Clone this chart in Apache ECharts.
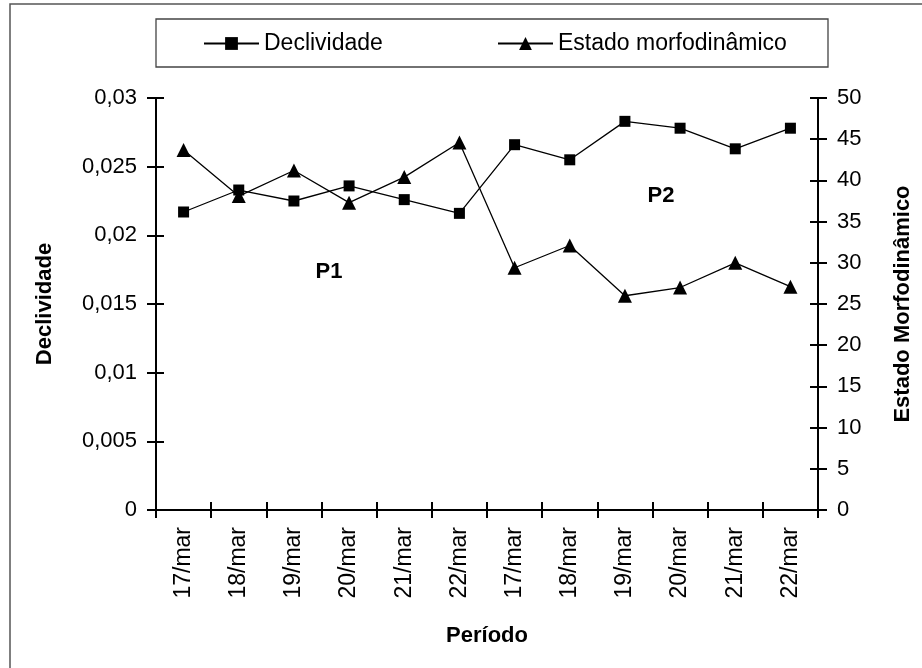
<!DOCTYPE html>
<html>
<head>
<meta charset="utf-8">
<script src="https://cdn.jsdelivr.net/npm/echarts@6/dist/echarts.min.js"></script>
<style>
  html, body { margin: 0; padding: 0; background: #fff; }
  #chart { width: 922px; height: 668px; }
</style>
</head>
<body>
<div id="chart"></div>
<script>
// dados
const periodos = ['17/mar', '18/mar', '19/mar', '20/mar', '21/mar', '22/mar',
                  '17/mar', '18/mar', '19/mar', '20/mar', '21/mar', '22/mar'];
const declividade = [0.0217, 0.0233, 0.0225, 0.0236, 0.0226, 0.0216,
                     0.0266, 0.0255, 0.0283, 0.0278, 0.0263, 0.0278];
const estadoMorfo = [43.7, 38.1, 41.2, 37.3, 40.4, 44.6,
                     29.4, 32.1, 26.0, 27.0, 30.0, 27.1];

const FONT = '"Liberation Sans", Arial, sans-serif';

const myChart = echarts.init(document.getElementById('chart'));

const fmtDecl = v => String(+(+v).toFixed(3)).replace('.', ',');

// eixo auxiliar só para os traços internos (ticks cruzando o eixo)
function innerTicks(base) {
  return Object.assign({
    axisLine: { show: false },
    axisLabel: { show: false },
    splitLine: { show: false },
    axisTick: { show: true, inside: true, length: 8, lineStyle: { color: '#000', width: 2 } }
  }, base);
}

const option = {
  backgroundColor: '#fff',
  animation: false,
  textStyle: { fontFamily: FONT, color: '#000' },
  grid: { left: 156, right: 96, top: 98, bottom: 158, containLabel: false },
  legend: [
    {
      data: ['Declividade'],
      left: 198, top: 27,
      itemWidth: 55, itemHeight: 16, itemGap: 12,
      textStyle: { fontFamily: FONT, fontSize: 23, color: '#000' }
    },
    {
      data: ['Estado morfodinâmico'],
      left: 492, top: 27,
      itemWidth: 55, itemHeight: 16, itemGap: 12,
      textStyle: { fontFamily: FONT, fontSize: 23, color: '#000' }
    }
  ],
  graphic: [
    { type: 'rect', shape: { x: 10, y: 4, width: 1000, height: 1000 },
      style: { fill: 'none', stroke: '#555', lineWidth: 1.5 }, z: 0 },
    { type: 'rect', shape: { x: 156, y: 19, width: 672, height: 48 },
      style: { fill: 'none', stroke: '#444', lineWidth: 1.3 }, z: 0 },
    { type: 'text', x: 329, y: 272,
      style: { text: 'P1', font: 'bold 22px ' + FONT, fill: '#000', align: 'center', verticalAlign: 'middle' } },
    { type: 'text', x: 661, y: 196,
      style: { text: 'P2', font: 'bold 22px ' + FONT, fill: '#000', align: 'center', verticalAlign: 'middle' } }
  ],
  xAxis: [
    {
      type: 'category',
      data: periodos,
      boundaryGap: true,
      name: 'Período',
      nameLocation: 'middle',
      nameGap: 126,
      nameTextStyle: { fontFamily: FONT, fontSize: 22, fontWeight: 'bold', color: '#000', verticalAlign: 'middle' },
      axisLine: { lineStyle: { color: '#000', width: 2 } },
      axisTick: { show: true, interval: 0, length: 8, lineStyle: { color: '#000', width: 2 } },
      axisLabel: { interval: 0, rotate: 90, margin: 17, fontFamily: FONT, fontSize: 23, color: '#000' },
      splitLine: { show: false }
    },
    innerTicks({ type: 'category', data: periodos, boundaryGap: true, position: 'bottom',
      axisTick: { show: true, inside: true, interval: 0, length: 8, lineStyle: { color: '#000', width: 2 } } })
  ],
  yAxis: [
    {
      type: 'value',
      min: 0, max: 0.03, interval: 0.005,
      position: 'left',
      name: 'Declividade',
      nameLocation: 'middle',
      nameGap: 111,
      nameTextStyle: { fontFamily: FONT, fontSize: 22, fontWeight: 'bold', color: '#000', verticalAlign: 'middle' },
      axisLine: { show: true, lineStyle: { color: '#000', width: 2 } },
      axisTick: { show: true, length: 9, lineStyle: { color: '#000', width: 2 } },
      axisLabel: { margin: 19, fontFamily: FONT, fontSize: 22, color: '#000', formatter: fmtDecl },
      splitLine: { show: false }
    },
    {
      type: 'value',
      min: 0, max: 50, interval: 5,
      position: 'right',
      name: 'Estado Morfodinâmico',
      nameLocation: 'middle',
      nameGap: 85,
      nameRotate: 90,
      nameTextStyle: { fontFamily: FONT, fontSize: 22, fontWeight: 'bold', color: '#000', verticalAlign: 'middle' },
      axisLine: { show: true, lineStyle: { color: '#000', width: 2 } },
      axisTick: { show: true, length: 9, lineStyle: { color: '#000', width: 2 } },
      axisLabel: { margin: 19, fontFamily: FONT, fontSize: 22, color: '#000' },
      splitLine: { show: false }
    },
    innerTicks({ type: 'value', min: 0, max: 0.03, interval: 0.005, position: 'left' }),
    innerTicks({ type: 'value', min: 0, max: 50, interval: 5, position: 'right' })
  ],
  series: [
    {
      name: 'Declividade',
      type: 'line',
      xAxisIndex: 0,
      yAxisIndex: 0,
      data: declividade,
      symbol: 'rect',
      symbolSize: 11,
      itemStyle: { color: '#000' },
      lineStyle: { color: '#000', width: 1.3 },
      z: 3
    },
    {
      name: 'Estado morfodinâmico',
      type: 'line',
      xAxisIndex: 0,
      yAxisIndex: 1,
      data: estadoMorfo,
      symbol: 'triangle',
      symbolSize: 14,
      itemStyle: { color: '#000' },
      lineStyle: { color: '#000', width: 1.3 },
      z: 3
    }
  ]
};

if (option && typeof option === 'object') {
  myChart.setOption(option);
}
</script>
</body>
</html>
